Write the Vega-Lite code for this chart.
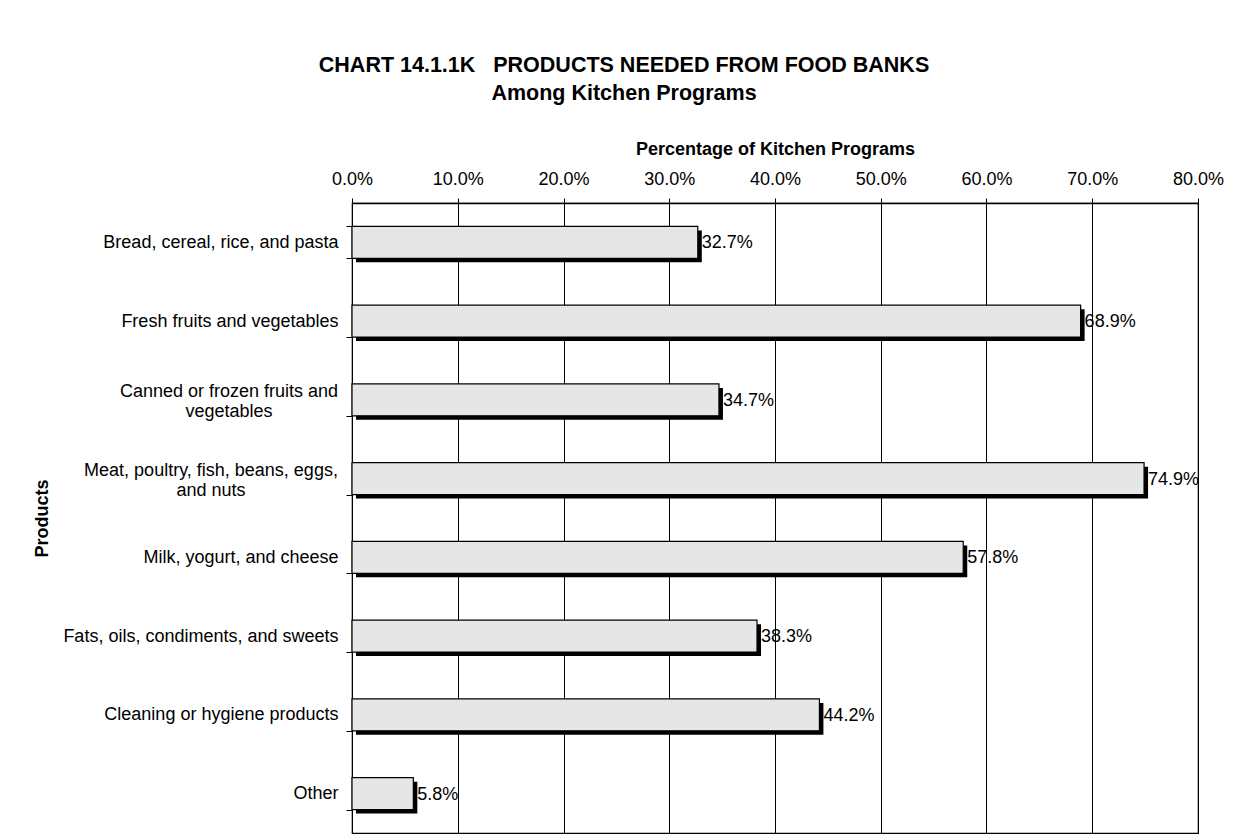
{
  "$schema": "https://vega.github.io/schema/vega-lite/v6.json",
  "width": 846,
  "height": 630,
  "autosize": {"type": "none"},
  "padding": {"left": 352, "top": 203, "right": 38, "bottom": 7},
  "background": "white",
  "title": {
    "text": ["CHART 14.1.1K\u00a0\u00a0\u00a0PRODUCTS NEEDED FROM FOOD BANKS", "Among Kitchen Programs"],
    "anchor": "middle",
    "frame": "group",
    "dx": -151,
    "offset": 36,
    "font": "Liberation Sans",
    "fontSize": 21.5,
    "fontWeight": "bold",
    "color": "black",
    "lineHeight": 28
  },
  "data": {
    "values": [
      {"product": "Bread, cereal, rice, and pasta", "value": 0.327},
      {"product": "Fresh fruits and vegetables", "value": 0.689},
      {"product": "Canned or frozen fruits and vegetables", "value": 0.347},
      {"product": "Meat, poultry, fish, beans, eggs, and nuts", "value": 0.749},
      {"product": "Milk, yogurt, and cheese", "value": 0.578},
      {"product": "Fats, oils, condiments, and sweets", "value": 0.383},
      {"product": "Cleaning or hygiene products", "value": 0.442},
      {"product": "Other", "value": 0.058}
    ]
  },
  "encoding": {
    "y": {
      "field": "product",
      "type": "nominal",
      "sort": null,
      "scale": {"paddingInner": 0.594, "paddingOuter": 0.297},
      "axis": {
        "orient": "left",
        "title": "Products",
        "tickBand": "extent",
        "tickSize": 6,
        "tickColor": "black",
        "domainColor": "black",
        "labelPadding": {
          "condition": [
            {"test": "datum.value == 'Canned or frozen fruits and vegetables'", "value": 117.5},
            {"test": "datum.value == 'Meat, poultry, fish, beans, eggs, and nuts'", "value": 135.5}
          ],
          "value": 8
        },
        "labelAlign": {
          "condition": {"test": "datum.value == 'Canned or frozen fruits and vegetables' || datum.value == 'Meat, poultry, fish, beans, eggs, and nuts'", "value": "center"},
          "value": "right"
        },
        "labelOffset": {
          "condition": {"test": "datum.value == 'Canned or frozen fruits and vegetables' || datum.value == 'Meat, poultry, fish, beans, eggs, and nuts'", "value": -8},
          "value": 0
        },
        "labelLimit": 0,
        "labelLineHeight": 20,
        "labelExpr": "datum.label == 'Canned or frozen fruits and vegetables' ? ['Canned or frozen fruits and', 'vegetables'] : datum.label == 'Meat, poultry, fish, beans, eggs, and nuts' ? ['Meat, poultry, fish, beans, eggs,', 'and nuts'] : datum.label",
        "titleX": -310,
        "titleY": 315,
        "titleAngle": -90,
        "titleAlign": "center",
        "titleBaseline": "middle",
        "grid": false
      }
    },
    "x": {
      "field": "value",
      "type": "quantitative",
      "scale": {"domain": [0, 0.8], "nice": false},
      "axis": {
        "orient": "top",
        "title": "Percentage of Kitchen Programs",
        "format": ".1%",
        "values": [0, 0.1, 0.2, 0.3, 0.4, 0.5, 0.6, 0.7, 0.8],
        "labelFlush": false,
        "grid": true,
        "gridColor": "black",
        "gridOpacity": 1,
        "tickColor": "black",
        "tickSize": 5,
        "domainColor": "black",
        "domainWidth": 1.5,
        "labelPadding": 10,
        "titlePadding": 12
      }
    }
  },
  "layer": [
    {
      "mark": {"type": "bar", "color": "black", "xOffset": 4, "yOffset": 4}
    },
    {
      "mark": {"type": "bar", "fill": "#e6e6e6", "stroke": "black", "strokeWidth": 1.2}
    },
    {
      "mark": {"type": "text", "align": "left", "baseline": "middle", "dx": 4, "dy": 1, "font": "Liberation Sans", "fontSize": 18, "color": "black"},
      "encoding": {"text": {"field": "value", "type": "quantitative", "format": ".1%"}}
    }
  ],
  "config": {
    "view": {"stroke": "black", "strokeWidth": 1.2},
    "axis": {
      "labelFont": "Liberation Sans",
      "labelFontSize": 18,
      "labelColor": "black",
      "titleFont": "Liberation Sans",
      "titleFontSize": 18,
      "titleFontWeight": "bold",
      "titleColor": "black"
    }
  }
}
